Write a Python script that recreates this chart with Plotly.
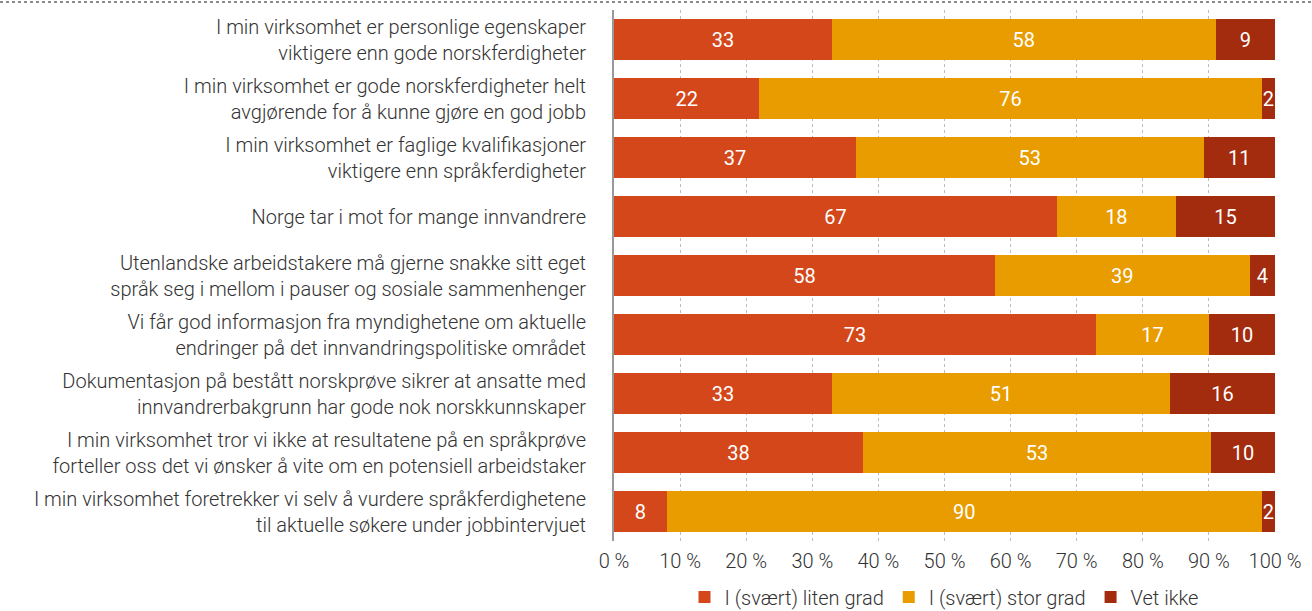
import plotly.graph_objects as go

categories = [
    "I min virksomhet er personlige egenskaper<br>viktigere enn gode norskferdigheter",
    "I min virksomhet er gode norskferdigheter helt<br>avgjørende for å kunne gjøre en god jobb",
    "I min virksomhet er faglige kvalifikasjoner<br>viktigere enn språkferdigheter",
    "Norge tar i mot for mange innvandrere",
    "Utenlandske arbeidstakere må gjerne snakke sitt eget<br>språk seg i mellom i pauser og sosiale sammenhenger",
    "Vi får god informasjon fra myndighetene om aktuelle<br>endringer på det innvandringspolitiske området",
    "Dokumentasjon på bestått norskprøve sikrer at ansatte med<br>innvandrerbakgrunn har gode nok norskkunnskaper",
    "I min virksomhet tror vi ikke at resultatene på en språkprøve<br>forteller oss det vi ønsker å vite om en potensiell arbeidstaker",
    "I min virksomhet foretrekker vi selv å vurdere språkferdighetene<br>til aktuelle søkere under jobbintervjuet",
]
liten = [33, 22, 36.6, 67, 57.6, 72.9, 33, 37.7, 8]
stor = [58, 76, 52.6, 18, 38.6, 17.1, 51.1, 52.6, 90]
vet_ikke = [9, 2, 10.8, 15, 3.8, 10, 15.9, 9.7, 2]

series = [
    ("I (svært) liten grad", liten, "#D4471A"),
    ("I (svært) stor grad", stor, "#E89C00"),
    ("Vet ikke", vet_ikke, "#A32B0E"),
]
tick_vals = [0, 10, 20, 30, 40, 50, 60, 70, 80, 90, 100]
tick_text = [f"{v} %" for v in tick_vals]

FONT = "Roboto"
fig = go.Figure()
for name, vals, color in series:
    fig.add_trace(go.Bar(
        y=categories, x=vals, name=name, orientation="h",
        marker=dict(color=color, line=dict(width=0)),
        width=0.68,
        text=vals, texttemplate="%{x:.0f}", textposition="inside",
        insidetextanchor="middle", constraintext="none",
        textfont=dict(color="white", size=20, family=FONT, weight=400),
        hoverinfo="skip",
    ))

L, R, T, B = 614, 37, 10, 70
W, H = 1312, 611
pw = W - L - R
fig.update_layout(
    barmode="stack",
    width=W, height=H,
    margin=dict(l=L, r=R, t=T, b=B, pad=0, autoexpand=False),
    plot_bgcolor="white", paper_bgcolor="white",
    font=dict(family=FONT, size=19, color="#333333", weight=300),
    bargap=0.32,
    xaxis=dict(
        range=[0, 100], tickvals=tick_vals, ticktext=tick_text,
        showgrid=True, gridcolor="#BBBBBB", griddash="dot", gridwidth=1,
        zeroline=False, showline=False, ticks="", ticklabelstandoff=6,
        tickfont=dict(size=20, color="#333333", weight=300), automargin=False,
    ),
    yaxis=dict(
        autorange="reversed", showline=True, linecolor="#999999", linewidth=2,
        ticks="", ticklabelstandoff=22, showgrid=False, automargin=False,
        tickfont=dict(size=20, color="#333333", weight=300),
    ),
    legend=dict(
        orientation="h", xref="container", yref="container",
        x=944 / W, xanchor="center", y=1 - 597 / H, yanchor="middle",
        font=dict(size=20, color="#333333", weight=300), traceorder="normal",
        itemwidth=30,
    ),
    shapes=[dict(
        type="line", xref="paper", yref="paper",
        x0=-L / pw, x1=1 + R / pw, y0=1 + 8 / (H - T - B), y1=1 + 8 / (H - T - B),
        line=dict(color="#666666", width=1.5, dash="dot"),
    )],
)
fig.write_html("out.html", config={"displayModeBar": False},
               post_script="document.body.style.margin='0';")
